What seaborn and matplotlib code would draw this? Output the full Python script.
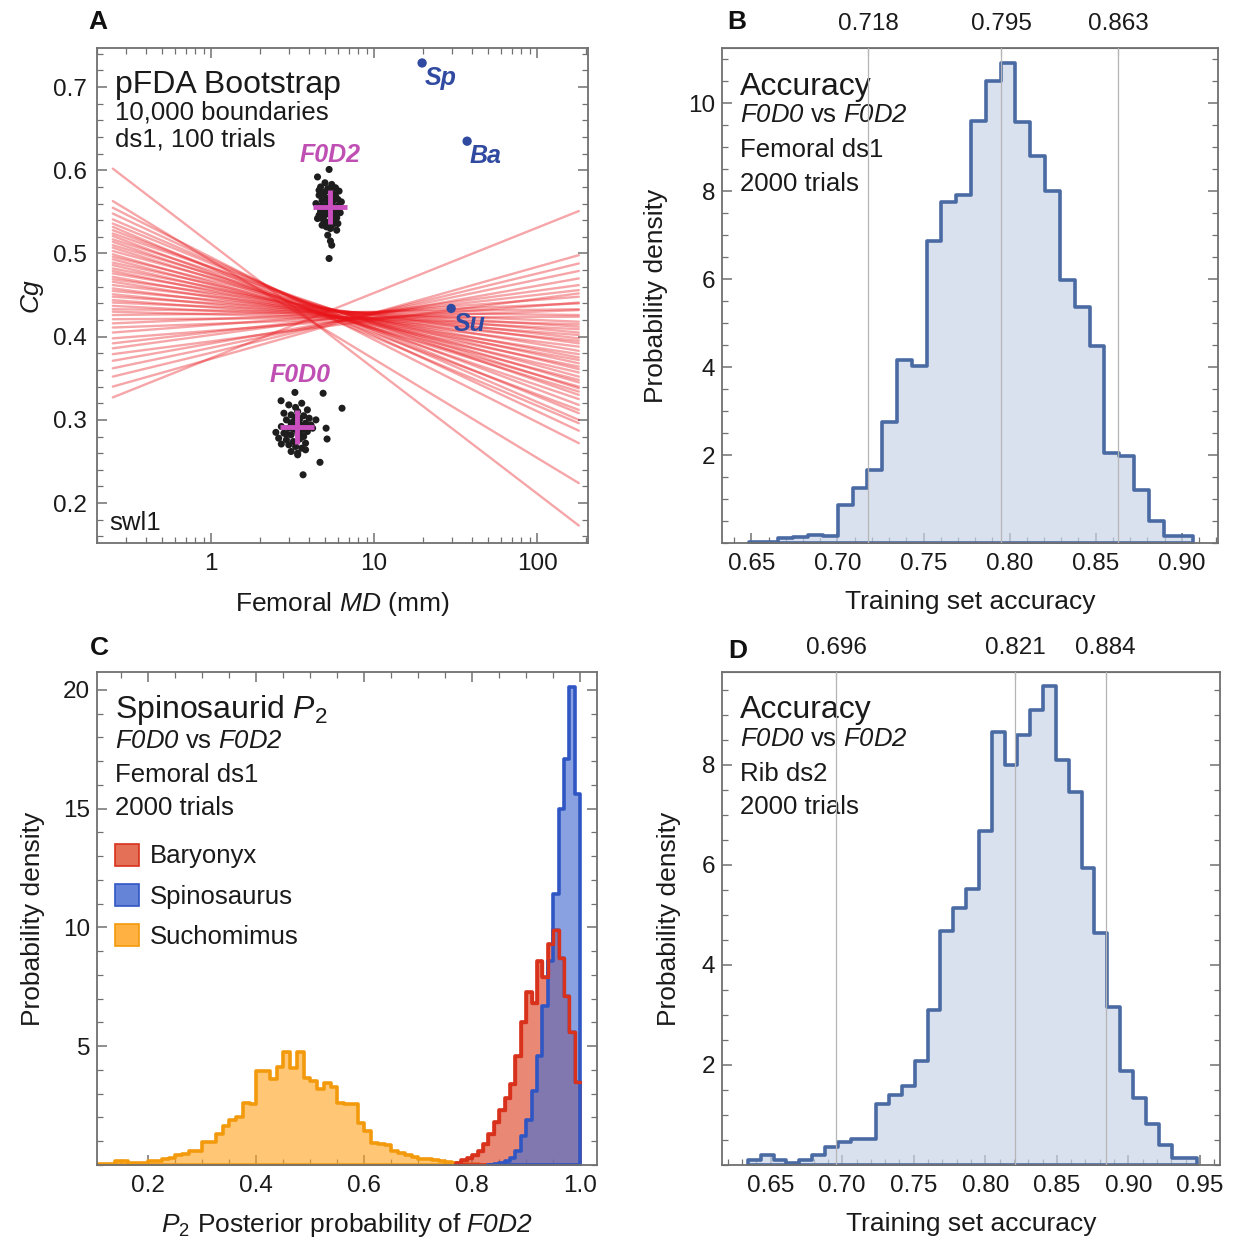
import matplotlib
matplotlib.use('Agg')
import matplotlib.pyplot as plt
import matplotlib.ticker as mticker
from matplotlib.colors import to_rgba
from matplotlib.patches import Patch
import seaborn as sns
import numpy as np
import pandas as pd

sns.set_style('white')
plt.rcParams['font.family'] = ['Liberation Sans', 'DejaVu Sans']
plt.rcParams['mathtext.fontset'] = 'custom'
plt.rcParams['mathtext.rm'] = 'Liberation Sans'
plt.rcParams['mathtext.it'] = 'Liberation Sans:italic'
plt.rcParams['mathtext.sf'] = 'Liberation Sans:italic'
plt.rcParams['mathtext.bf'] = 'Liberation Sans:bold'

# ---------------- Panel A data ----------------
# bootstrap boundaries: Cg value at left end (MD=0.25) and right end (MD=180)
line_md = [0.25, 180]
boundary_left = [0.602, 0.563, 0.555, 0.548, 0.541, 0.536, 0.532, 0.528, 0.524, 0.521,
                 0.517, 0.514, 0.510, 0.507, 0.503, 0.499, 0.496, 0.493, 0.489, 0.486,
                 0.482, 0.479, 0.476, 0.472, 0.469, 0.466, 0.462, 0.458, 0.455, 0.451,
                 0.448, 0.444, 0.441, 0.437, 0.433, 0.430, 0.426, 0.421, 0.416, 0.411,
                 0.405, 0.398, 0.392, 0.386, 0.379, 0.371, 0.362, 0.352, 0.340, 0.327]
boundary_right = [0.173, 0.224, 0.272, 0.287, 0.300, 0.308, 0.296, 0.318, 0.330, 0.312,
                  0.338, 0.325, 0.345, 0.334, 0.352, 0.340, 0.361, 0.348, 0.368, 0.357,
                  0.375, 0.364, 0.383, 0.372, 0.392, 0.379, 0.398, 0.388, 0.405, 0.395,
                  0.412, 0.402, 0.418, 0.409, 0.426, 0.415, 0.433, 0.424, 0.440, 0.432,
                  0.448, 0.441, 0.456, 0.462, 0.452, 0.470, 0.479, 0.488, 0.498, 0.551]

f0d2_md = [5.3, 4.5, 4.7, 5.0, 5.2, 5.5, 5.8, 6.1, 4.6, 4.9, 5.1, 5.4, 5.7, 6.0, 6.3,
           4.4, 4.8, 5.3, 5.6, 5.9, 4.7, 5.0, 5.2, 5.5, 5.8, 6.2, 4.5, 4.9, 5.3, 5.7,
           6.0, 4.8, 5.1, 5.4, 5.6, 5.9, 4.6, 5.0, 5.3, 5.2, 5.4, 5.5, 5.3,
           4.6, 5.0, 5.4, 5.8, 4.8, 5.2, 5.6, 6.0, 4.7, 5.1, 5.5, 5.9, 4.9, 5.3, 5.7, 5.0]
f0d2_cg = [0.601, 0.592, 0.580, 0.585, 0.578, 0.583, 0.579, 0.575, 0.570, 0.572, 0.566, 0.568, 0.571, 0.565, 0.562,
           0.560, 0.558, 0.561, 0.556, 0.554, 0.550, 0.548, 0.552, 0.545, 0.547, 0.549, 0.542, 0.540, 0.538, 0.541,
           0.536, 0.534, 0.532, 0.530, 0.535, 0.528, 0.546, 0.555, 0.563, 0.522, 0.515, 0.510, 0.494,
           0.576, 0.574, 0.577, 0.569, 0.564, 0.559, 0.563, 0.557, 0.553, 0.551, 0.549, 0.543, 0.544, 0.547, 0.539, 0.537]

f0d0_md = [3.0, 3.3, 3.6, 3.9, 2.8, 3.1, 3.4, 3.7, 4.0, 2.9, 3.2, 3.5, 3.8, 4.1, 2.7,
           3.0, 3.3, 3.6, 3.9, 2.8, 3.1, 3.4, 3.7, 4.2, 2.6, 2.9, 3.2, 3.5, 3.8, 3.0,
           3.3, 3.6, 2.7, 3.1, 3.4, 3.8, 2.9, 3.2, 3.5, 3.3, 3.6, 3.1, 3.4,
           3.27, 4.87, 2.69, 6.36, 5.08, 5.15, 4.66, 3.67, 4.4, 2.5]
f0d0_cg = [0.318, 0.315, 0.320, 0.312, 0.308, 0.306, 0.310, 0.305, 0.302, 0.300, 0.298, 0.301, 0.296, 0.294, 0.292,
           0.290, 0.293, 0.288, 0.286, 0.284, 0.282, 0.285, 0.280, 0.290, 0.278, 0.276, 0.274, 0.277, 0.272, 0.270,
           0.268, 0.266, 0.271, 0.262, 0.260, 0.264, 0.283, 0.289, 0.295, 0.303, 0.281, 0.296, 0.258,
           0.333, 0.332, 0.323, 0.314, 0.290, 0.277, 0.249, 0.234, 0.300, 0.285]

group_names = ['F0D2', 'F0D0']
group_mean_md = [5.35, 3.35]
group_mean_cg = [0.556, 0.292]
group_label_md = [5.37, 3.52]
group_label_cg = [0.618, 0.354]

spino_names = ['Sp', 'Ba', 'Su']
spino_md = [19.7, 37.2, 29.7]
spino_cg = [0.729, 0.635, 0.434]

# ---------------- Panel B data ----------------
b_start, b_width = 0.6486, 0.0086
b_density = [0.02, 0.03, 0.12, 0.13, 0.18, 0.17, 0.87, 1.25, 1.67, 2.75,
             4.16, 4.02, 6.86, 7.76, 7.90, 9.59, 10.49, 10.91, 9.57, 8.79,
             8.00, 5.98, 5.36, 4.47, 2.04, 1.98, 1.20, 0.49, 0.16, 0.16]
b_marks = [0.718, 0.795, 0.863]

# ---------------- Panel C data ----------------
such_start, such_width = 0.100, 0.0125
such_density = [0.05, 0.05, 0.05, 0.17, 0.17, 0.07, 0.07, 0.10, 0.17, 0.17,
                0.25, 0.30, 0.40, 0.45, 0.60, 0.60, 0.96, 0.96, 1.30, 1.66,
                1.90, 2.04, 2.60, 2.55, 3.95, 3.95, 3.60, 4.13, 4.75, 4.09,
                4.75, 3.66, 3.52, 3.20, 3.45, 3.30, 2.60, 2.55, 2.55, 1.76,
                1.41, 0.92, 0.90, 0.85, 0.57, 0.50, 0.40, 0.35, 0.25, 0.25,
                0.20, 0.16, 0.12, 0.10, 0.08, 0.05, 0.03]
bary_start, bary_width = 0.77, 0.01
bary_density = [0.1, 0.2, 0.3, 0.4, 0.6, 0.9, 1.3, 1.8, 2.3, 2.8, 3.4, 4.6,
                6.0, 7.3, 6.8, 8.6, 7.9, 9.3, 9.9, 8.7, 7.1, 5.6, 3.5]
spin_start, spin_width = 0.83, 0.01
spin_density = [0.02, 0.04, 0.08, 0.15, 0.3, 0.6, 1.2, 1.9, 3.1, 4.6,
                6.7, 8.6, 11.4, 15.0, 17.1, 20.1, 15.6]

# ---------------- Panel D data ----------------
d_start, d_width = 0.6341, 0.00897
d_density = [0.09, 0.19, 0.10, 0.03, 0.09, 0.20, 0.36, 0.45, 0.52, 0.52,
             1.21, 1.39, 1.57, 2.07, 3.10, 4.68, 5.14, 5.51, 6.68, 8.66,
             8.00, 8.60, 9.09, 9.57, 8.10, 7.46, 5.93, 4.64, 3.16, 1.87,
             1.34, 0.82, 0.39, 0.14, 0.14]
d_marks = [0.696, 0.821, 0.884]

# ---------------- figure ----------------
W, H = 1238, 1249
fig = plt.figure(figsize=(W / 100, H / 100), dpi=100)


def box(l, t, r, b):
    return [l / W, 1 - b / H, (r - l) / W, (b - t) / H]


axA = fig.add_axes(box(97, 48, 588, 543))
axB = fig.add_axes(box(722, 48, 1218, 543))
axC = fig.add_axes(box(97, 672, 597, 1165))
axD = fig.add_axes(box(722, 672, 1220, 1165))

frame_col = '#707070'
txt_col = '#1a1a1a'
TICK = 17.5
LAB = 19
TITLE = 23
SUB = 18.5


def frame(ax, top=True):
    for s in ax.spines.values():
        s.set_visible(True)
        s.set_color(frame_col)
        s.set_linewidth(1.3)
    ax.tick_params(which='both', direction='in', top=top, right=True, bottom=True, left=True,
                   colors=frame_col, labelcolor=txt_col, labelsize=TICK)
    ax.tick_params(which='major', length=7, width=1.1)
    ax.tick_params(which='minor', length=4, width=0.9)
    ax.tick_params(axis='x', pad=7)
    ax.tick_params(axis='y', pad=5)


def step_hist(ax, start, width, heights, face, edge, alpha, lw=2.6, fill=True):
    edges = [start + width * k for k in range(len(heights) + 1)]
    df = pd.DataFrame({'val': [e + width / 2 for e in edges[:-1]], 'dens': heights})
    if fill:
        sns.histplot(data=df, x='val', weights='dens', bins=edges, element='step', fill=True,
                     facecolor=to_rgba(face, alpha), edgecolor=edge, linewidth=lw, ax=ax)
    else:
        sns.histplot(data=df, x='val', weights='dens', bins=edges, element='step', fill=False,
                     color=edge, linewidth=lw, ax=ax)


def info_text(ax, lines, ys):
    sizes = [TITLE] + [SUB] * (len(lines) - 1)
    for t, y, s in zip(lines, ys, sizes):
        ax.text(0.036, y, t, transform=ax.transAxes, fontsize=s, va='baseline', color=txt_col)


# ---------- A ----------
axA.set_xscale('log')
rows = []
for i, (l, r) in enumerate(zip(boundary_left, boundary_right)):
    rows.append((i, line_md[0], l))
    rows.append((i, line_md[1], r))
lines_df = pd.DataFrame(rows, columns=['id', 'md', 'cg'])
sns.lineplot(data=lines_df, x='md', y='cg', units='id', estimator=None,
             color='#e8161b', alpha=0.38, linewidth=1.7, ax=axA, zorder=1)
sns.scatterplot(x=f0d2_md + f0d0_md, y=f0d2_cg + f0d0_cg, color='#1e1e1e', s=26,
                edgecolor='none', ax=axA, zorder=3)
axA.plot(group_mean_md, group_mean_cg, linestyle='none', marker='+', markersize=24,
         mew=3.5, color='#c94fbf', zorder=4)
for n, xm, yc in zip(group_names, group_label_md, group_label_cg):
    axA.text(xm, yc, n, ha='center', va='center', fontsize=18, fontweight='bold',
             style='italic', color='#c04fb4')
sns.scatterplot(x=spino_md, y=spino_cg, color='#2f4aa0', s=45, edgecolor='none', ax=axA, zorder=4)
for n, xm, yc in zip(spino_names, spino_md, spino_cg):
    axA.annotate(n, (xm, yc), xytext=(2, -11), textcoords='offset points', ha='left', va='center',
                 fontsize=18, fontweight='bold', style='italic', color='#2f4aa0')
axA.set_xlim(0.2, 205)
axA.set_ylim(0.152, 0.747)
axA.set_xticks([1, 10, 100], labels=['1', '10', '100'])
axA.xaxis.set_minor_locator(mticker.LogLocator(subs=np.arange(2, 10)))
axA.xaxis.set_minor_formatter(mticker.NullFormatter())
axA.set_yticks([0.2, 0.3, 0.4, 0.5, 0.6, 0.7])
axA.yaxis.set_minor_locator(mticker.MultipleLocator(0.02))
frame(axA)
axA.tick_params(axis='y', pad=7)
axA.set_xlabel(r'Femoral $\mathsf{MD}$ (mm)', fontsize=LAB, color=txt_col, labelpad=11)
axA.set_ylabel('Cg', fontsize=LAB, style='italic', color=txt_col, labelpad=8)
info_text(axA, ['pFDA Bootstrap', '10,000 boundaries', 'ds1, 100 trials'], [0.909, 0.855, 0.802])
axA.text(0.025, 0.026, 'swl1', transform=axA.transAxes, fontsize=SUB, va='baseline', color=txt_col)

# ---------- B and D ----------
hist_face = '#c9d5e8'
hist_edge = '#4a6aa3'
vs_line = r'$\mathsf{F0D0}$ vs $\mathsf{F0D2}$'


def accuracy_panel(ax, start, width, dens, marks, xlim, ylim, xticks, yticks, third_line, ypad):
    step_hist(ax, start, width, dens, hist_face, hist_edge, 0.7)
    for m in marks:
        ax.axvline(m, color='#b5b5b5', lw=0.9, zorder=5)
    ax.set_xlim(*xlim)
    ax.set_ylim(*ylim)
    ax.set_xticks(xticks, labels=['%.2f' % t for t in xticks])
    ax.xaxis.set_minor_locator(mticker.MultipleLocator(0.01))
    ax.set_yticks(yticks)
    ax.yaxis.set_minor_locator(mticker.MultipleLocator(0.5))
    frame(ax, top=False)
    sec = ax.secondary_xaxis('top')
    sec.set_xticks(marks, labels=['%.3f' % m for m in marks])
    sec.tick_params(direction='in', length=6, colors=frame_col, labelcolor=txt_col,
                    labelsize=TICK, pad=9)
    sec.spines['top'].set_color(frame_col)
    ax.set_xlabel('Training set accuracy', fontsize=LAB, color=txt_col, labelpad=11)
    ax.set_ylabel('Probability density', fontsize=LAB, color=txt_col, labelpad=ypad)
    info_text(ax, ['Accuracy', vs_line, third_line, '2000 trials'], [0.906, 0.850, 0.779, 0.712])


accuracy_panel(axB, b_start, b_width, b_density, b_marks, (0.633, 0.921), (0, 11.25),
               [0.65, 0.70, 0.75, 0.80, 0.85, 0.90], [2, 4, 6, 8, 10], 'Femoral ds1', 14)
accuracy_panel(axD, d_start, d_width, d_density, d_marks, (0.616, 0.964), (0, 9.85),
               [0.65, 0.70, 0.75, 0.80, 0.85, 0.90, 0.95], [2, 4, 6, 8], 'Rib ds2', 15)

# ---------- C ----------
such_face, such_edge = '#ffa521', '#f29a0c'
bary_face, bary_edge = '#e0573a', '#d8311c'
spin_face, spin_edge = '#4a6fd0', '#3056c4'
step_hist(axC, such_start, such_width, such_density, such_face, such_edge, 0.62)
step_hist(axC, bary_start, bary_width, bary_density, bary_face, bary_edge, 0.7)
step_hist(axC, spin_start, spin_width, spin_density, spin_face, spin_edge, 0.65)
step_hist(axC, bary_start, bary_width, bary_density, bary_face, bary_edge, 0, lw=2.4, fill=False)
axC.set_xlim(0.105, 1.031)
axC.set_ylim(0, 20.75)
axC.set_xticks([0.2, 0.4, 0.6, 0.8, 1.0], labels=['0.2', '0.4', '0.6', '0.8', '1.0'])
axC.xaxis.set_minor_locator(mticker.MultipleLocator(0.05))
axC.set_yticks([5, 10, 15, 20])
axC.yaxis.set_minor_locator(mticker.MultipleLocator(1))
frame(axC)
axC.set_xlabel(r'$\mathsf{P}_2$ Posterior probability of $\mathsf{F0D2}$', fontsize=LAB,
               color=txt_col, labelpad=10)
axC.set_ylabel('Probability density', fontsize=LAB, color=txt_col, labelpad=13)
info_text(axC, [r'Spinosaurid $\mathsf{P}_2$', vs_line, 'Femoral ds1', '2000 trials'],
          [0.906, 0.846, 0.777, 0.710])
legend_names = ['Baryonyx', 'Spinosaurus', 'Suchomimus']
legend_cols = [(bary_face, bary_edge, 0.85), (spin_face, spin_edge, 0.85), (such_face, such_edge, 0.85)]
handles = [Patch(facecolor=to_rgba(f, a), edgecolor=e, linewidth=1.2) for f, e, a in legend_cols]
axC.legend(handles, legend_names, loc='upper left', bbox_to_anchor=(0.036, 0.652), frameon=False,
           fontsize=SUB, handlelength=0.95, handleheight=0.95, handletextpad=0.4,
           labelspacing=0.6, borderaxespad=0, borderpad=0, labelcolor=txt_col)

# panel letters
for letter, x, y in [('A', 88, 10), ('B', 727, 10), ('C', 90, 636), ('D', 728, 639)]:
    fig.text(x / W, 1 - y / H, letter, fontsize=19, fontweight='bold', va='top', ha='left', color='#111111')

fig.savefig('out.png', dpi=100)
